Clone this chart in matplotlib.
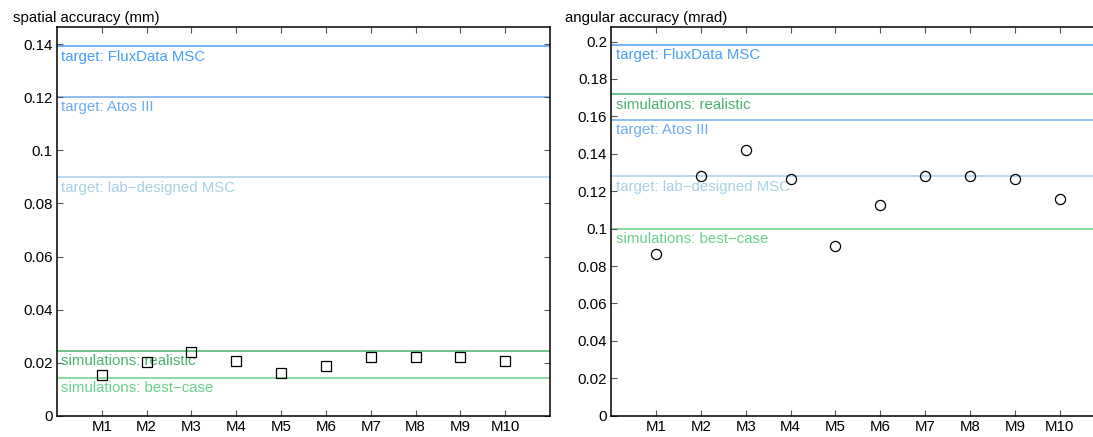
import matplotlib
matplotlib.use('Agg')
import matplotlib.pyplot as plt
from matplotlib.ticker import FuncFormatter

plt.rcParams['font.family'] = ['Liberation Sans', 'DejaVu Sans']
plt.rcParams['font.size'] = 10.8

# data
models = ['M1', 'M2', 'M3', 'M4', 'M5', 'M6', 'M7', 'M8', 'M9', 'M10']
spatial = [0.0155, 0.0203, 0.0239, 0.0207, 0.0160, 0.0188, 0.0220, 0.0223, 0.0223, 0.0207]
angular = [0.0863, 0.1281, 0.1422, 0.1263, 0.0906, 0.1125, 0.1281, 0.1281, 0.1263, 0.1160]

# reference lines (same order in both panels)
ref_names = ['target: FluxData MSC', 'target: Atos III', 'target: lab\u2212designed MSC',
             'simulations: realistic', 'simulations: best\u2212case']
ref_colors = ['#4a9ef5', '#70acee', '#a8d0e6', '#4cb070', '#6acf8a']
spatial_refs = [0.1392, 0.1203, 0.0898, 0.0244, 0.0142]
angular_refs = [0.1982, 0.1582, 0.1281, 0.1718, 0.1000]

W, H = 1093, 437
fig = plt.figure(figsize=(W / 100, H / 100), dpi=100)
ax1 = fig.add_axes([57 / W, 21.3 / H, 493 / W, 388.4 / H])
ax2 = fig.add_axes([611.4 / W, 21.3 / H, 493 / W, 388.4 / H])


def fmt(v, pos):
    return '%g' % round(v, 4)


def setup(ax, vals, refs, marker, ymax, yticks, title, tx):
    x = list(range(1, len(models) + 1))
    for name, col, r in zip(ref_names, ref_colors, refs):
        ax.axhline(r, color=col, lw=1.1, zorder=1)
        ax.annotate(name, xy=(0.1, r), xytext=(0, -2.5), textcoords='offset points',
                    ha='left', va='top', color=col, fontsize=10.8, zorder=2)
    ax.plot(x, vals, linestyle='none', marker=marker, markersize=7.3,
            markerfacecolor='none', markeredgecolor='black', markeredgewidth=0.9, zorder=3)
    ax.set_xlim(0, 11)
    ax.set_ylim(0, ymax)
    ax.set_xticks(x)
    ax.set_xticklabels(models)
    ax.set_yticks(yticks)
    ax.yaxis.set_major_formatter(FuncFormatter(fmt))
    ax.tick_params(direction='in', top=True, right=True, length=4, width=0.8,
                   color='#555555', labelsize=10.8, pad=3)
    for s in ax.spines.values():
        s.set_linewidth(1.1)
    fig.text(tx / W, 1 - 22 / H, title, ha='left', va='baseline', fontsize=10.8)


setup(ax1, spatial, spatial_refs, 's', 0.1464,
      [0, 0.02, 0.04, 0.06, 0.08, 0.1, 0.12, 0.14], 'spatial accuracy (mm)', 12.5)
setup(ax2, angular, angular_refs, 'o', 0.2076,
      [0, 0.02, 0.04, 0.06, 0.08, 0.1, 0.12, 0.14, 0.16, 0.18, 0.2], 'angular accuracy (mrad)', 565.3)

fig.savefig('out.png', dpi=100)
